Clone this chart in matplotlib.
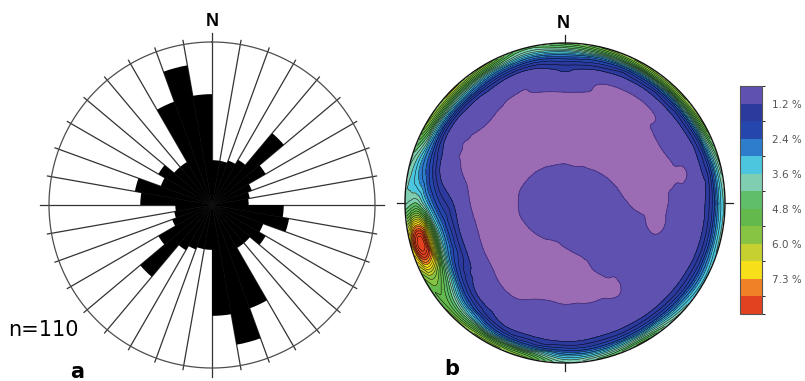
import numpy as np
import matplotlib
matplotlib.use("Agg")
import matplotlib.pyplot as plt
import matplotlib.tri as mtri
from matplotlib.colors import ListedColormap, BoundaryNorm
from matplotlib.patches import Circle
import matplotlib.colorbar as mcolorbar

# ---- rose diagram (a): bidirectional, 10 deg bins, % of n=110 (outer ring = 20 %)
bin_start = [0, 10, 20, 30, 40, 50, 60, 70, 80, 90, 100, 110, 120, 130, 140, 150, 160, 170]
petal_pct = [5.5, 5.5, 5.8, 6.4, 11.5, 7.6, 5.2, 4.7, 4.5, 8.8, 9.6, 6.7, 7.6, 6.1, 6.1, 13.5, 17.4, 13.6]
rose_max = 20.0

# ---- pole density (b): values (%) read on rings of the net, bearings every 15 deg
bearings = [0, 15, 30, 45, 60, 75, 90, 105, 120, 135, 150, 165,
            180, 195, 210, 225, 240, 255, 270, 285, 300, 315, 330, 345]
ring_r = [0.15, 0.3, 0.45, 0.6, 0.7, 0.8, 0.87, 0.93, 0.97, 1.0]
centre_val = 0.9
d_r15 = [0.8, 0.8, 0.8, 0.8, 0.8, 0.8, 0.85, 0.85, 0.85, 0.85, 0.85, 0.8,
         0.8, 0.8, 0.8, 0.8, 0.8, 0.8, 0.8, 0.8, 0.8, 0.8, 0.8, 0.8]
d_r30 = [0.50, 0.47, 0.53, 0.57, 0.61, 0.66, 0.75, 0.80, 0.85, 0.85, 0.80, 0.65,
         0.57, 0.50, 0.53, 0.55, 0.57, 0.59, 0.59, 0.59, 0.57, 0.55, 0.53, 0.50]
d_r45 = [0.42, 0.42, 0.42, 0.42, 0.42, 0.45, 0.525, 0.70, 0.80, 0.80, 0.75, 0.45,
         0.42, 0.42, 0.42, 0.42, 0.45, 0.45, 0.45, 0.42, 0.42, 0.42, 0.42, 0.42]
d_r60 = [0.45, 0.45, 0.45, 0.45, 0.45, 0.45, 0.5, 0.55, 0.75, 0.75, 0.55, 0.5,
         0.5, 0.55, 0.5, 0.55, 0.64, 0.7, 0.62, 0.5, 0.45, 0.5, 0.45, 0.45]
d_r70 = [0.62, 0.55, 0.5, 0.55, 0.62, 0.55, 0.75, 0.75, 0.8, 0.8, 0.65, 0.75,
         0.83, 0.8, 0.67, 0.85, 1.25, 1.4, 1.2, 0.7, 0.55, 0.61, 0.55, 0.58]
d_r80 = [1.1, 0.72, 0.62, 0.65, 0.95, 0.65, 0.95, 0.95, 0.95, 0.95, 0.95, 0.95,
         0.95, 0.95, 1.0, 1.3, 2.3, 3.2, 2.0, 1.1, 0.8, 0.95, 0.8, 0.78]
d_r87 = [1.6, 1.4, 1.25, 1.25, 1.2, 1.15, 1.15, 1.15, 1.2, 1.25, 1.3, 1.3,
         1.25, 1.35, 1.5, 2.4, 4.5, 6.5, 3.2, 2.0, 1.5, 1.5, 1.45, 1.3]
d_r93 = [2.8, 2.6, 2.6, 2.6, 2.4, 2.0, 2.0, 2.0, 2.0, 2.2, 2.4, 2.3,
         2.3, 2.6, 2.9, 4.0, 5.6, 9.0, 4.2, 2.9, 3.3, 3.5, 3.0, 2.6]
d_r97 = [4.2, 4.6, 5.0, 5.0, 4.5, 3.4, 3.2, 3.1, 2.9, 3.3, 4.0, 3.6,
         3.4, 4.8, 5.0, 4.9, 5.6, 8.3, 4.0, 3.6, 5.0, 5.2, 4.8, 3.8]
d_r100 = [5.0, 5.6, 6.0, 6.0, 5.6, 4.3, 3.8, 3.8, 3.5, 4.0, 5.0, 4.5,
          4.0, 5.6, 6.0, 5.6, 5.2, 6.8, 3.8, 4.0, 5.8, 6.2, 5.8, 4.4]

cb_bounds = [0.6, 1.2, 1.8, 2.4, 3.0, 3.6, 4.2, 4.8, 5.4, 6.0, 6.6, 7.3, 7.9, 8.5]
cb_colors = ["#5f51b0", "#2c3a9e", "#2446ad", "#2d7dcc", "#4cc6de", "#80ceb2", "#5fbe6a",
             "#64b94c", "#88c443", "#c6d131", "#f7df1a", "#f08126", "#e2421f"]
under_color = "#9b6cb4"
tick_values = [1.2, 2.4, 3.6, 4.8, 6.0, 7.3]
tick_labels = ["1.2 %", "2.4 %", "3.6 %", "4.8 %", "6.0 %", "7.3 %"]

fig = plt.figure(figsize=(8.05, 3.81), dpi=100)

# ---------------- a: rose
ax1 = fig.add_axes([36 / 805, 0, 352 / 805, 352 / 381], projection="polar")
ax1.set_theta_zero_location("N")
ax1.set_theta_direction(-1)
all_start = np.array(bin_start + [b + 180 for b in bin_start])
all_len = petal_pct + petal_pct
ax1.bar(np.radians(all_start + 5), all_len, width=np.radians(10), bottom=0,
        color="black", edgecolor="none", linewidth=0, zorder=2)
th = np.linspace(0, 2 * np.pi, 400)
ax1.plot(th, np.full_like(th, rose_max), color="#4d4d4d", lw=0.9, zorder=3)
for a in range(0, 360, 10):
    ext = rose_max * 1.055 if a % 90 == 0 else rose_max * 1.025
    ax1.plot([np.radians(a)] * 2, [0, ext], color="#333333", lw=0.9, zorder=1)
ax1.set_ylim(0, rose_max * 176 / 163)
ax1.set_axis_off()

# ---------------- b: density contours
ax2 = fig.add_axes([(565 - 170) / 805, (178 - 170) / 381, 340 / 805, 340 / 381])
lim = 170 / 160
ax2.set_xlim(-lim, lim)
ax2.set_ylim(-lim, lim)
ax2.set_aspect("equal")
ax2.set_axis_off()

rings = [d_r15, d_r30, d_r45, d_r60, d_r70, d_r80, d_r87, d_r93, d_r97, d_r100]
bb = np.radians(bearings)
px, py, pz = [0.0], [0.0], [centre_val]
for r, vals in zip(ring_r, rings):
    px += list(r * np.sin(bb))
    py += list(r * np.cos(bb))
    pz += vals
tri = mtri.Triangulation(px, py)
interp = mtri.CubicTriInterpolator(tri, pz, kind="geom")
tri_f, z_f = mtri.UniformTriRefiner(tri).refine_field(pz, triinterpolator=interp, subdiv=3)

fill_levels = [-5.0] + cb_bounds[:-1] + [15.0]
cf = ax2.tricontourf(tri_f, z_f, levels=fill_levels, colors=[under_color] + cb_colors)
line_levels = np.round(np.arange(1.2, 9.0, 0.3), 2)
cl = ax2.tricontour(tri_f, z_f, levels=line_levels, colors="black", linewidths=0.35)
cl0 = ax2.tricontour(tri_f, z_f, levels=[0.6], colors="#4a2f7a", linewidths=0.6)
clip = Circle((0, 0), 1.0, transform=ax2.transData)
for c in (cf, cl, cl0):
    c.set_clip_path(clip)
ax2.add_patch(Circle((0, 0), 1.0, fill=False, ec="#111111", lw=1.0))
for ang in (0, 90, 180, 270):
    t = np.radians(ang)
    ax2.plot([np.sin(t), 1.05 * np.sin(t)], [np.cos(t), 1.05 * np.cos(t)], color="#222222", lw=0.9)

# ---------------- colorbar
cax = fig.add_axes([740 / 805, 67 / 381, 22 / 805, 228 / 381])
cmap = ListedColormap(cb_colors)
norm = BoundaryNorm(cb_bounds, cmap.N)
cb = mcolorbar.ColorbarBase(cax, cmap=cmap, norm=norm, orientation="vertical",
                            drawedges=True, ticks=tick_values)
cax.invert_yaxis()
cb.set_ticklabels(tick_labels)
cax.tick_params(length=0, labelsize=7.5, labelcolor="#555555", pad=7)
cb.outline.set_edgecolor("#555555")
cb.outline.set_linewidth(0.8)
cb.dividers.set_color("#222222")
cb.dividers.set_linewidth(0.8)

# ---------------- labels
fig.text(212 / 805, 1 - 22 / 381, "N", ha="center", va="center", fontsize=13,
         fontweight="bold", family="Liberation Sans")
fig.text(563 / 805, 1 - 24 / 381, "N", ha="center", va="center", fontsize=13,
         fontweight="bold", family="Liberation Sans")
fig.text(8 / 805, 1 - 330 / 381, "n=110", ha="left", va="center", fontsize=15)
fig.text(77 / 805, 1 - 372 / 381, "a", ha="center", va="center", fontsize=15, fontweight="bold")
fig.text(452 / 805, 1 - 369 / 381, "b", ha="center", va="center", fontsize=15, fontweight="bold")

fig.savefig("out.png", dpi=100)
